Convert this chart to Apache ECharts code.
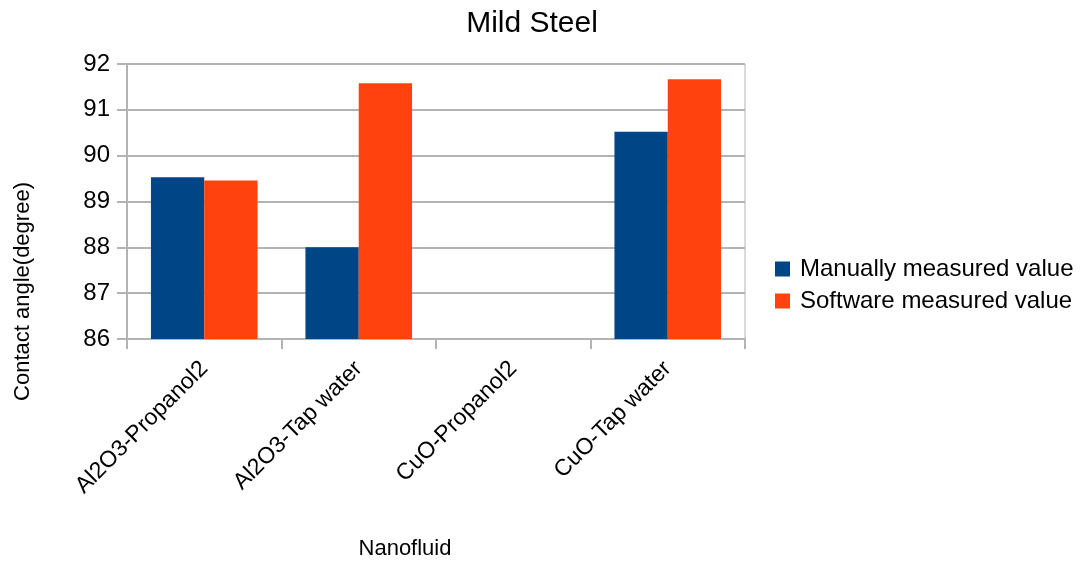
<!DOCTYPE html>
<html>
<head>
<meta charset="utf-8">
<script src="https://cdn.jsdelivr.net/npm/echarts@6/dist/echarts.min.js"></script>
<style>
  html, body { margin: 0; padding: 0; background: #fff; }
  #chart { width: 1082px; height: 563px; }
</style>
</head>
<body>
<div id="chart"></div>
<script>
// Contact angle of nanofluids on mild steel
const categories = ['Al2O3-Propanol2', 'Al2O3-Tap water', 'CuO-Propanol2', 'CuO-Tap water'];
const manualValues = [89.53, 88.0, null, 90.52];
const softwareValues = [89.46, 91.58, null, 91.67];
const yTicks = { min: 86, max: 92, interval: 1 };

const FONT = '"Liberation Sans", Arial, sans-serif';
const GRID_COLOR = '#b3b3b3';

const chart = echarts.init(document.getElementById('chart'), null, { renderer: 'canvas' });
chart.setOption({
  backgroundColor: '#ffffff',
  animation: false,
  title: {
    text: 'Mild Steel',
    left: 527,
    top: 4,
    textAlign: 'center',
    textStyle: { fontFamily: FONT, fontSize: 30, fontWeight: 'normal', color: '#000' }
  },
  legend: {
    orient: 'vertical',
    left: 775,
    top: 257,
    padding: 0,
    itemWidth: 15,
    itemHeight: 15,
    itemGap: 8,
    icon: 'rect',
    textStyle: { fontFamily: FONT, fontSize: 24, color: '#000', padding: [0, 0, 0, 5] },
    data: ['Manually measured value', 'Software measured value']
  },
  grid: { left: 127, right: 337, top: 64, bottom: 224, show: true, borderColor: GRID_COLOR, borderWidth: 1 },
  xAxis: {
    type: 'category',
    data: categories,
    name: 'Nanofluid',
    nameLocation: 'middle',
    nameGap: 199,
    nameTextStyle: { fontFamily: FONT, fontSize: 22, color: '#000', padding: [0, 62, 0, 0] },
    axisLine: { lineStyle: { color: GRID_COLOR, width: 2 } },
    axisTick: { show: true, length: 10, lineStyle: { color: GRID_COLOR, width: 2 } },
    axisLabel: {
      rotate: 45,
      margin: 26,
      fontFamily: FONT,
      fontSize: 23,
      color: '#000'
    }
  },
  yAxis: {
    type: 'value',
    min: yTicks.min,
    max: yTicks.max,
    interval: yTicks.interval,
    name: 'Contact angle(degree)',
    nameLocation: 'middle',
    nameGap: 93,
    nameTextStyle: { fontFamily: FONT, fontSize: 22, color: '#000', padding: [0, 180, 0, 0] },
    axisLine: { show: true, lineStyle: { color: GRID_COLOR, width: 2 } },
    axisTick: { show: true, length: 10, lineStyle: { color: GRID_COLOR, width: 2 } },
    splitLine: { show: true, lineStyle: { color: GRID_COLOR, width: 2 } },
    axisLabel: { margin: 17, fontFamily: FONT, fontSize: 24, color: '#000' }
  },
  series: [
    {
      name: 'Manually measured value',
      type: 'bar',
      data: manualValues,
      itemStyle: { color: '#004586' },
      barGap: '0%',
      barCategoryGap: '31%'
    },
    {
      name: 'Software measured value',
      type: 'bar',
      data: softwareValues,
      itemStyle: { color: '#ff420e' },
      barGap: '0%',
      barCategoryGap: '31%'
    }
  ]
});
</script>
</body>
</html>
